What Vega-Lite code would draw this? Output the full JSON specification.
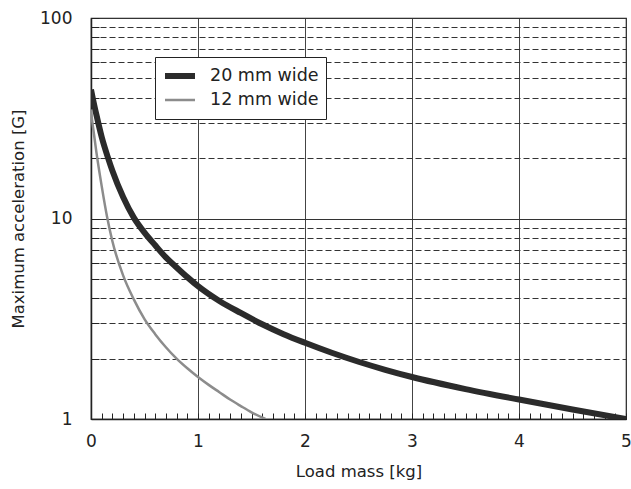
{
  "$schema": "https://vega.github.io/schema/vega-lite/v6.json",
  "width": 535,
  "height": 401,
  "autosize": "none",
  "padding": {"left": 91, "top": 18, "right": 5, "bottom": 70},
  "background": "white",
  "config": {
    "font": "DejaVu Sans",
    "view": {"stroke": "#222", "strokeWidth": 1.2},
    "axis": {"labelFont": "DejaVu Sans", "titleFont": "DejaVu Sans", "labelColor": "#222", "titleColor": "#222", "titleFontWeight": "normal", "labelFontSize": 17, "titleFontSize": 16.5, "labelFlush": false, "labelOverlap": false}
  },
  "data": {"values": [
    {"series": "20 mm wide", "mass": 0, "acc": 44},
    {"series": "20 mm wide", "mass": 0.02, "acc": 39},
    {"series": "20 mm wide", "mass": 0.05, "acc": 33},
    {"series": "20 mm wide", "mass": 0.1, "acc": 25.5},
    {"series": "20 mm wide", "mass": 0.16, "acc": 20},
    {"series": "20 mm wide", "mass": 0.2, "acc": 17.3},
    {"series": "20 mm wide", "mass": 0.3, "acc": 12.8},
    {"series": "20 mm wide", "mass": 0.4, "acc": 10.1},
    {"series": "20 mm wide", "mass": 0.5, "acc": 8.5},
    {"series": "20 mm wide", "mass": 0.6, "acc": 7.35},
    {"series": "20 mm wide", "mass": 0.7, "acc": 6.4},
    {"series": "20 mm wide", "mass": 0.8, "acc": 5.7},
    {"series": "20 mm wide", "mass": 0.9, "acc": 5.1},
    {"series": "20 mm wide", "mass": 1.0, "acc": 4.6},
    {"series": "20 mm wide", "mass": 1.2, "acc": 3.88},
    {"series": "20 mm wide", "mass": 1.4, "acc": 3.38},
    {"series": "20 mm wide", "mass": 1.6, "acc": 2.97},
    {"series": "20 mm wide", "mass": 1.8, "acc": 2.65},
    {"series": "20 mm wide", "mass": 2.0, "acc": 2.4},
    {"series": "20 mm wide", "mass": 2.25, "acc": 2.14},
    {"series": "20 mm wide", "mass": 2.5, "acc": 1.93},
    {"series": "20 mm wide", "mass": 2.75, "acc": 1.76},
    {"series": "20 mm wide", "mass": 3.0, "acc": 1.62},
    {"series": "20 mm wide", "mass": 3.5, "acc": 1.41},
    {"series": "20 mm wide", "mass": 4.0, "acc": 1.25},
    {"series": "20 mm wide", "mass": 4.5, "acc": 1.115},
    {"series": "20 mm wide", "mass": 5.0, "acc": 1.0},
    {"series": "12 mm wide", "mass": 0, "acc": 35},
    {"series": "12 mm wide", "mass": 0.01, "acc": 31},
    {"series": "12 mm wide", "mass": 0.025, "acc": 27},
    {"series": "12 mm wide", "mass": 0.05, "acc": 21.5},
    {"series": "12 mm wide", "mass": 0.1, "acc": 14.5},
    {"series": "12 mm wide", "mass": 0.15, "acc": 10.2},
    {"series": "12 mm wide", "mass": 0.2, "acc": 7.7},
    {"series": "12 mm wide", "mass": 0.3, "acc": 5.2},
    {"series": "12 mm wide", "mass": 0.4, "acc": 3.95},
    {"series": "12 mm wide", "mass": 0.5, "acc": 3.15},
    {"series": "12 mm wide", "mass": 0.6, "acc": 2.65},
    {"series": "12 mm wide", "mass": 0.7, "acc": 2.28},
    {"series": "12 mm wide", "mass": 0.8, "acc": 2.0},
    {"series": "12 mm wide", "mass": 0.9, "acc": 1.79},
    {"series": "12 mm wide", "mass": 1.0, "acc": 1.62},
    {"series": "12 mm wide", "mass": 1.1, "acc": 1.48},
    {"series": "12 mm wide", "mass": 1.2, "acc": 1.36},
    {"series": "12 mm wide", "mass": 1.3, "acc": 1.25},
    {"series": "12 mm wide", "mass": 1.4, "acc": 1.16},
    {"series": "12 mm wide", "mass": 1.5, "acc": 1.08},
    {"series": "12 mm wide", "mass": 1.63, "acc": 1.0}
  ]},
  "mark": {"type": "line", "strokeCap": "butt", "clip": true, "interpolate": "monotone"},
  "encoding": {
    "x": {
      "field": "mass", "type": "quantitative",
      "scale": {"domain": [0, 5], "nice": false, "zero": false},
      "axis": {
        "title": "Load mass [kg]",
        "titlePadding": 14,
        "values": [0,0.1,0.2,0.3,0.4,0.5,0.6,0.7,0.8,0.9,1,1.1,1.2,1.3,1.4,1.5,1.6,1.7,1.8,1.9,2,2.1,2.2,2.3,2.4,2.5,2.6,2.7,2.8,2.9,3,3.1,3.2,3.3,3.4,3.5,3.6,3.7,3.8,3.9,4,4.1,4.2,4.3,4.4,4.5,4.6,4.7,4.8,4.9,5],
        "labelExpr": "datum.value % 1 == 0 ? format(datum.value, 'd') : ''",
        "tickSize": -6,
        "tickColor": "#222",
        "domainColor": "#222",
        "domainWidth": 1.5,
        "labelPadding": 20,
        "grid": true,
        "gridColor": "#444",
        "gridWidth": 1,
        "gridOpacity": {"condition": {"test": "datum.value % 1 == 0 && datum.value > 0 && datum.value < 5", "value": 1}, "value": 0}
      }
    },
    "y": {
      "field": "acc", "type": "quantitative",
      "scale": {"type": "log", "domain": [1, 100], "nice": false},
      "axis": {
        "title": "Maximum acceleration [G]",
        "titlePadding": 13,
        "values": [1,2,3,4,5,6,7,8,9,10,20,30,40,50,60,70,80,90,100],
        "labelExpr": "(datum.value == 1 || datum.value == 10 || datum.value == 100) ? format(datum.value, 'd') : ''",
        "tickSize": -8,
        "tickColor": "#222",
        "domainColor": "#222",
        "domainWidth": 1.5,
        "labelPadding": 27,
        "grid": true,
        "gridColor": "#333",
        "gridWidth": 1,
        "gridDash": {"condition": {"test": "datum.value == 10 || datum.value == 100 || datum.value == 1", "value": []}, "value": [6, 3]}
      }
    },
    "color": {
      "field": "series", "type": "nominal",
      "scale": {"domain": ["20 mm wide", "12 mm wide"], "range": ["#2b2b2b", "#8c8c8c"]},
      "legend": {
        "title": null,
        "orient": "none",
        "legendX": 64,
        "legendY": 39,
        "symbolType": "stroke",
        "symbolSize": 900,
        "clipHeight": 24,
        "labelFont": "DejaVu Sans",
        "labelFontSize": 17.5,
        "labelColor": "#222",
        "labelOffset": 12,
        "rowPadding": 0,
        "padding": 7,
        "strokeColor": "#222",
        "fillColor": "white",
        "labelLimit": 300
      }
    },
    "strokeWidth": {
      "field": "series", "type": "nominal",
      "scale": {"domain": ["20 mm wide", "12 mm wide"], "range": [6, 2.5]},
      "legend": null
    }
  }
}
